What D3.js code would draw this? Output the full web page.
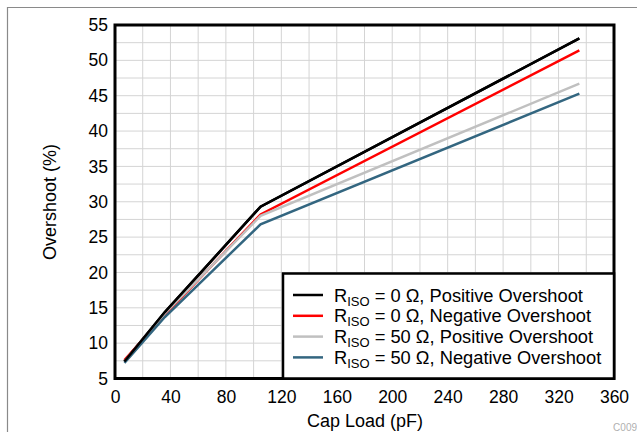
<!DOCTYPE html>
<html><head><meta charset="utf-8">
<script src="https://cdn.jsdelivr.net/npm/d3@7"></script>
<style>body{margin:0;background:#fff}svg{display:block}text{font-family:"Liberation Sans",Arial,sans-serif}</style>
</head><body><svg id="c" width="637" height="432"></svg>
<script>
const capLoad = [6.8, 36, 105, 335];
const posOS0 = [7.4, 14.4, 29.3, 53.1];
const negOS0 = [7.6, 14.0, 28.2, 51.4];
const posOS50 = [7.4, 14.2, 28.0, 46.7];
const negOS50 = [7.2, 13.7, 26.8, 45.3];
const seriesNames = ["0 Ω, Positive Overshoot","0 Ω, Negative Overshoot","50 Ω, Positive Overshoot","50 Ω, Negative Overshoot"];
const seriesColors = ["#000000","#ff0000","#c0c0c0","#336680"];
const xTicks = [0,40,80,120,160,200,240,280,320,360];
const yTicks = [5,10,15,20,25,30,35,40,45,50,55];

const series = [posOS0,negOS0,posOS50,negOS50];
const svg = d3.select("#c");
const L=115,R=614,T=25,B=378.5;
const x = d3.scaleLinear().domain([0,360]).range([L,R]);
const y = d3.scaleLinear().domain([5,55]).range([B,T]);

// outer frame
svg.append("path").attr("d","M7.5,432 L7.5,7.5 L637,7.5").attr("fill","none").attr("stroke","#8a8a8a").attr("stroke-width",1.2);

// grid
const g = svg.append("g");
g.selectAll(".gx").data(d3.range(20,360,20)).enter().append("line")
 .attr("x1",d=>x(d)).attr("x2",d=>x(d)).attr("y1",T).attr("y2",B).attr("stroke","#d4d4d4").attr("stroke-width",1);
g.selectAll(".gy").data(d3.range(7.5,55,2.5)).enter().append("line")
 .attr("y1",d=>y(d)).attr("y2",d=>y(d)).attr("x1",L).attr("x2",R).attr("stroke","#d4d4d4").attr("stroke-width",1);

// axes
const xa = svg.append("g").attr("transform",`translate(0,${B})`).call(d3.axisBottom(x).tickValues(xTicks).tickSize(0).tickPadding(12));
const ya = svg.append("g").attr("transform",`translate(${L},0)`).call(d3.axisLeft(y).tickValues(yTicks).tickSize(0).tickPadding(7));
[xa,ya].forEach(a=>{a.select(".domain").remove();a.selectAll("text").attr("font-size",17.5).attr("fill","#000").style("font-family","'Liberation Sans',Arial,sans-serif");});

// lines
const line = d3.line().x((d,i)=>x(capLoad[i])).y(d=>y(d));
series.forEach((s,i)=>{
  svg.append("path").datum(s).attr("d",line).attr("fill","none").attr("stroke",seriesColors[i]).attr("stroke-width",2.5);
});
svg.append("path").datum(posOS0).attr("d",line).attr("fill","none").attr("stroke",seriesColors[0]).attr("stroke-width",2.5);

// plot border
svg.append("rect").attr("x",L).attr("y",T).attr("width",R-L).attr("height",B-T).attr("fill","none").attr("stroke","#000").attr("stroke-width",3);

// legend
const lg = svg.append("g");
lg.append("rect").attr("x",283).attr("y",273.5).attr("width",R-283).attr("height",B-273.5).attr("fill","#fff").attr("stroke","#000").attr("stroke-width",2.5);
seriesNames.forEach((n,i)=>{
  const yy = 295 + i*20.8;
  lg.append("line").attr("x1",293).attr("x2",323).attr("y1",yy).attr("y2",yy).attr("stroke",seriesColors[i]).attr("stroke-width",2.5);
  const t = lg.append("text").attr("x",334).attr("y",yy+6.5).attr("font-size",18.3).attr("fill","#000");
  t.append("tspan").text("R");
  t.append("tspan").text("ISO").attr("font-size",13).attr("dy",4);
  t.append("tspan").text(" = " + n).attr("dy",-4);
});

// axis titles
svg.append("text").attr("x",365).attr("y",427).attr("text-anchor","middle").attr("font-size",18).text("Cap Load (pF)");
svg.append("text").attr("transform","translate(56,202) rotate(-90)").attr("text-anchor","middle").attr("font-size",18).text("Overshoot (%)");
svg.append("text").attr("x",637).attr("y",431).attr("text-anchor","end").attr("font-size",10).attr("fill","#b0b0b0").text("C009");
</script></body></html>
